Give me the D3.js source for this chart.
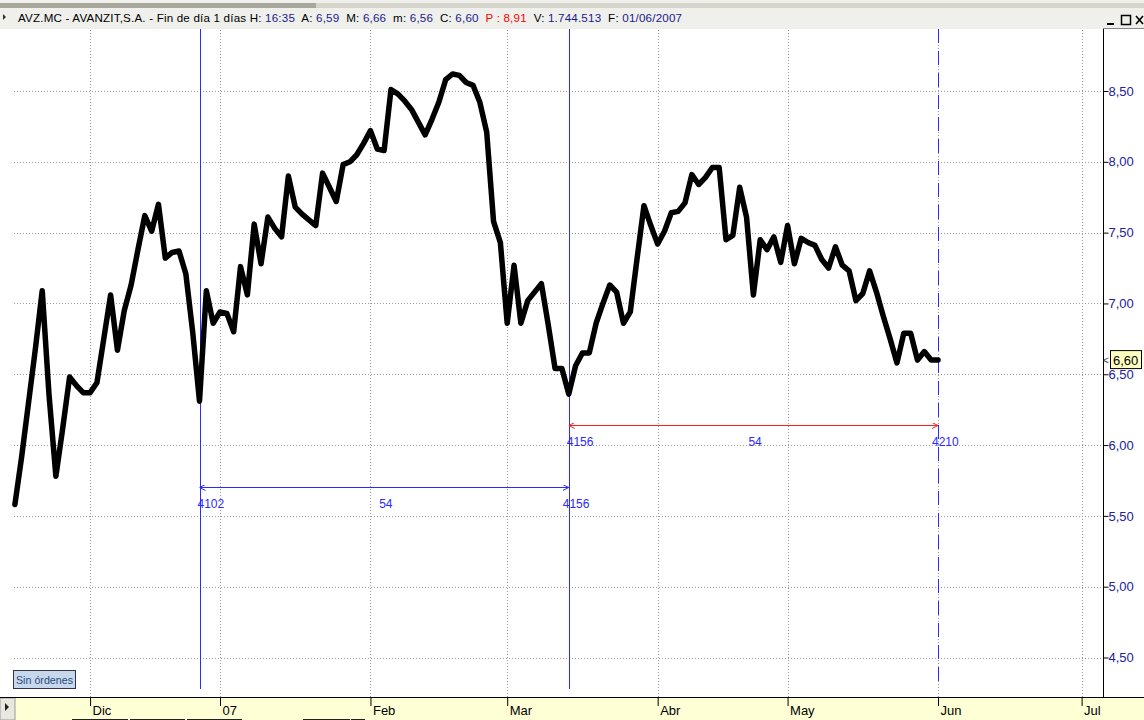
<!DOCTYPE html>
<html><head><meta charset="utf-8">
<script src="https://cdn.jsdelivr.net/npm/d3@7"></script>
<style>body{margin:0;background:#fff}svg{display:block}</style>
</head><body>
<script>
// ---- data ----
const startIdx = 4075;
const closes = [
5.58,5.92,6.30,6.68,7.09,6.35,5.78,6.12,6.48,6.42,
6.37,6.37,6.44,6.75,7.06,6.67,6.95,7.13,7.38,7.62,
7.51,7.70,7.32,7.36,7.37,7.21,6.80,6.31,7.09,6.86,
6.94,6.93,6.80,7.26,7.06,7.56,7.28,7.61,7.53,7.47,
7.90,7.68,7.63,7.59,7.55,7.92,7.82,7.72,7.98,8.00,
8.05,8.13,8.22,8.09,8.08,8.51,8.48,8.43,8.37,8.28,
8.19,8.30,8.42,8.58,8.62,8.61,8.56,8.54,8.42,8.21,
7.58,7.43,6.86,7.27,6.86,7.02,7.08,7.14,6.85,6.54,
6.54,6.36,6.56,6.65,6.65,6.86,7.00,7.13,7.08,6.86,
6.94,7.32,7.69,7.55,7.42,7.51,7.64,7.65,7.71,7.91,
7.84,7.89,7.96,7.96,7.45,7.48,7.82,7.61,7.06,7.45,
7.38,7.47,7.29,7.55,7.28,7.46,7.43,7.41,7.31,7.25,
7.40,7.27,7.23,7.02,7.07,7.23,7.08,6.91,6.75,6.58,
6.79,6.79,6.60,6.66,6.60,6.60];
const monthIdx = [4086,4105,4127,4147,4169,4188,4210,4231];
const monthLabels = ["Dic","07","Feb","Mar","Abr","May","Jun","Jul"];
const priceTicks = [4.5,5.0,5.5,6.0,6.5,7.0,7.5,8.0,8.5];
const cycleMarks = [4102,4156,4210];
const lastPrice = 6.60;
const header = [
 ["AVZ.MC - AVANZIT,S.A. - Fin de día 1 días ","k"],["H: ","k"],["16:35","b"],
 ["  A: ","k"],["6,59","b"],["  M: ","k"],["6,66","b"],["  m: ","k"],["6,56","b"],
 ["  C: ","k"],["6,60","b"],["  P : 8,91","r"],["  V: ","k"],["1.744.513","b"],
 ["  F: ","k"],["01/06/2007","b"]];

// ---- layout ----
const W=1144,H=720;
const svg=d3.select("body").append("svg").attr("width",W).attr("height",H)
  .style("font-family","'Liberation Sans',Arial,sans-serif");
const plotTop=29, plotBottom=697, axisX=1103, gridLeft=14;

const x=d3.scaleLinear().domain([4102,4210]).range([199.5,938]);
const y=d3.scaleLinear().domain([4.5,8.5]).range([657.5,91]);

// header
svg.append("rect").attr("x",0).attr("y",0).attr("width",W).attr("height",29).attr("fill","#efefec");
svg.append("rect").attr("x",0).attr("y",3).attr("width",W).attr("height",5).attr("fill","#d6d5cc");
svg.append("rect").attr("x",0).attr("y",3).attr("width",316).attr("height",5).attr("fill","#a8a79c");
svg.append("path").attr("d","M3,14 L6,17 L3,20 Z").attr("fill","#333");
const ht=svg.append("text").attr("x",18).attr("y",22).attr("font-size",11.6)
  .attr("textLength",664).attr("lengthAdjust","spacing");
const hcol={k:"#000",b:"#1a1a8a",r:"#ff0000"};
header.forEach(h=>ht.append("tspan").attr("fill",hcol[h[1]]).attr("xml:space","preserve").style("white-space","pre").text(h[0]));
// window buttons
const wb=svg.append("g");
wb.append("line").attr("x1",1107).attr("x2",1114).attr("y1",24).attr("y2",24).attr("stroke","#000").attr("stroke-width",2);
wb.append("rect").attr("x",1121.5).attr("y",15.5).attr("width",9).attr("height",9).attr("fill","none").attr("stroke","#000").attr("stroke-width",1.5);
wb.append("path").attr("d","M1136,16 L1143,24 M1143,16 L1136,24").attr("stroke","#000").attr("stroke-width",1.6);

// plot bg
svg.append("rect").attr("x",0).attr("y",plotTop).attr("width",W).attr("height",plotBottom-plotTop).attr("fill","#fff");
svg.append("line").attr("x1",axisX).attr("x2",W).attr("y1",plotTop-0.5).attr("y2",plotTop-0.5).attr("stroke","#888");

// grid
const grid=svg.append("g").attr("stroke","#9a9a9a").attr("stroke-dasharray","1,2").attr("stroke-width",1);
priceTicks.forEach(v=>grid.append("line").attr("x1",gridLeft).attr("x2",axisX).attr("y1",Math.round(y(v))+0.5).attr("y2",Math.round(y(v))+0.5));
monthIdx.forEach(i=>grid.append("line").attr("x1",Math.round(x(i))+0.5).attr("x2",Math.round(x(i))+0.5).attr("y1",plotTop+1).attr("y2",plotBottom));

// vertical cycle lines
cycleMarks.forEach((m,k)=>{
  svg.append("line").attr("x1",Math.round(x(m))+0.5).attr("x2",Math.round(x(m))+0.5)
   .attr("y1",plotTop).attr("y2",689).attr("stroke","#2a2aff").attr("stroke-width",1)
   .attr("stroke-dasharray",k===2?"14,8":null);
});

// markers
const defs=svg.append("defs");
function mk(id,col,rev){
  defs.append("marker").attr("id",id).attr("viewBox","0 0 6 6").attr("refX",rev?0:6).attr("refY",3)
   .attr("markerWidth",6).attr("markerHeight",6).attr("markerUnits","userSpaceOnUse").attr("orient","auto")
   .append("path").attr("d",rev?"M6,0 L0,3 L6,6":"M0,0 L6,3 L0,6").attr("fill","none").attr("stroke",col).attr("stroke-width",1);
}
mk("bs","#2a2aff",true);mk("be","#2a2aff",false);mk("rs","#ff2020",true);mk("re","#ff2020",false);

function span(a,b,yy,col,ms,me){
  svg.append("line").attr("x1",x(a)).attr("x2",x(b)).attr("y1",yy).attr("y2",yy)
   .attr("stroke",col).attr("stroke-width",1).attr("marker-start",`url(#${ms})`).attr("marker-end",`url(#${me})`);
  const tg=svg.append("g").attr("fill","#2a2aff").attr("font-size",12);
  tg.append("text").attr("x",x(a)-2).attr("y",yy+20).text(a);
  tg.append("text").attr("x",x(a)+(x(b)-x(a))/2-5).attr("y",yy+20).text(b-a);
  tg.append("text").attr("x",x(b)-6).attr("y",yy+20).text(b);
}
span(cycleMarks[0],cycleMarks[1],487.5,"#2a2aff","bs","be");
span(cycleMarks[1],cycleMarks[2],425.5,"#ff2020","rs","re");

// price line
const line=d3.line().x((d,i)=>x(startIdx+i)).y(d=>y(d));
svg.append("path").datum(closes).attr("d",line).attr("fill","none").attr("stroke","#000")
 .attr("stroke-width",5.5).attr("stroke-linejoin","round").attr("stroke-linecap","round");

// right axis
const ya=svg.append("g").attr("transform",`translate(${axisX+0.5},0)`)
 .call(d3.axisRight(y).tickValues(priceTicks).tickSize(5).tickSizeOuter(0).tickFormat(d=>d3.format(".2f")(d).replace(".",",")));
ya.select(".domain").attr("d",`M0,${plotTop}V${plotBottom}`).attr("stroke","#000");
ya.selectAll(".tick line").attr("stroke","#000");
ya.selectAll(".tick text").attr("x",5).attr("fill","#2020a0").attr("font-size",13).attr("font-family","'Liberation Sans',Arial,sans-serif");

// last price label
const ly=y(lastPrice);
svg.append("text").attr("x",1103).attr("y",ly+4).attr("font-size",10).attr("fill","#333").text("<");
svg.append("rect").attr("x",1110.5).attr("y",ly-9.5).attr("width",31).attr("height",18).attr("fill","#ffffc0").attr("stroke","#000");
svg.append("text").attr("x",1113).attr("y",ly+5).attr("font-size",13).attr("fill","#000").text(d3.format(".2f")(lastPrice).replace(".",","));

// Sin órdenes box
svg.append("rect").attr("x",13.5).attr("y",670.5).attr("width",62).attr("height",18).attr("fill","#c8d8ec").attr("stroke","#334");
svg.append("text").attr("x",16).attr("y",684).attr("font-size",11.5).attr("fill","#2a4a7a")
  .attr("textLength",57).attr("lengthAdjust","spacingAndGlyphs").text("Sin órdenes");

// bottom band
svg.append("rect").attr("x",0).attr("y",plotBottom).attr("width",W).attr("height",H-plotBottom).attr("fill","#ffffd6");
svg.append("rect").attr("x",0).attr("y",plotBottom+1).attr("width",15).attr("height",22).attr("fill","#e8e8e0").attr("stroke","#999");
svg.append("path").attr("d",`M5,${plotBottom+6} L9,${plotBottom+10} L5,${plotBottom+14} Z`).attr("fill","#222");
const xa=svg.append("g").attr("transform",`translate(0,${plotBottom})`)
 .call(d3.axisBottom(x).tickValues(monthIdx).tickSize(9).tickSizeOuter(0).tickFormat((d,i)=>monthLabels[i]));
xa.select(".domain").attr("d",`M0,0.5H${W}`).attr("stroke","#000");
xa.selectAll(".tick line").attr("stroke","#000");
xa.selectAll(".tick text").attr("text-anchor","start").attr("x",2).attr("y",9).attr("dy","0.71em")
 .attr("font-size",13).attr("fill","#000").attr("font-family","'Liberation Sans',Arial,sans-serif");
// bits below band
[[72,128],[130,185],[187,242],[303,350],[351,365]].forEach(s=>svg.append("line").attr("x1",s[0]).attr("x2",s[1]).attr("y1",719.5).attr("y2",719.5).attr("stroke","#222"));
</script>
</body></html>
